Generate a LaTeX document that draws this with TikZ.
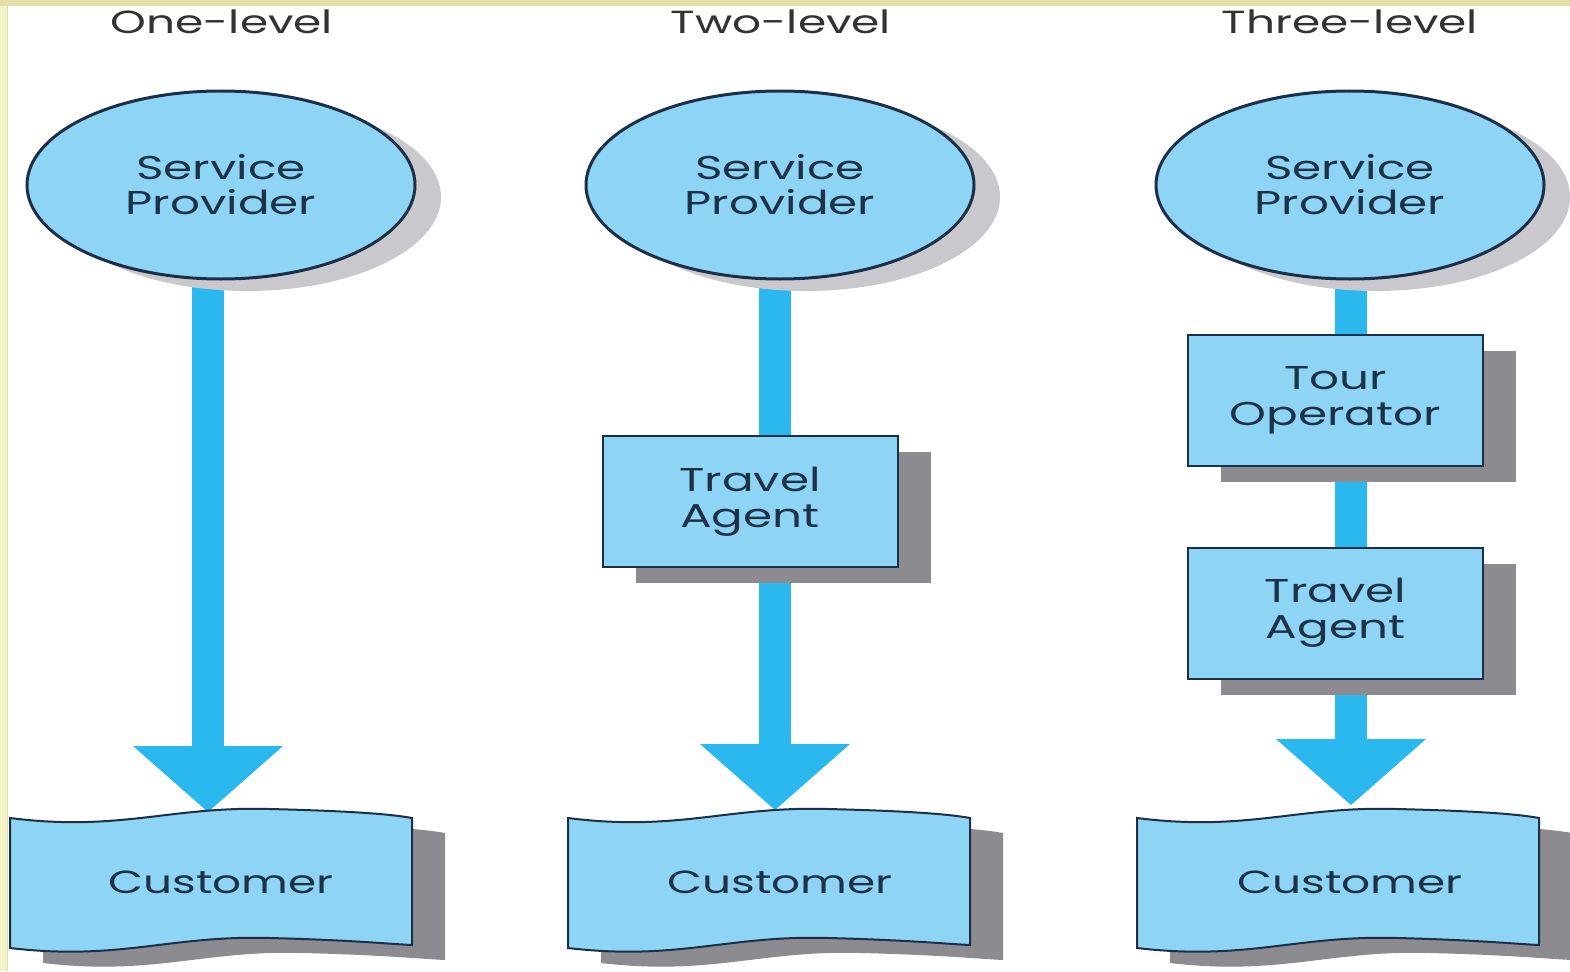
\documentclass[tikz,border=0pt]{standalone}
\usepackage{fontspec}
\setmainfont{Poppins}[FakeStretch=1.42]
\usetikzlibrary{shapes.geometric,arrows.meta,shadows}
\definecolor{boxfill}{HTML}{8ED5F5}
\definecolor{shaftc}{HTML}{2BB8EE}
\definecolor{edgec}{HTML}{1C2F48}
\definecolor{txtc}{HTML}{1E3247}
\definecolor{titlec}{HTML}{333333}
\definecolor{shdark}{HTML}{8C8C90}
\definecolor{shlight}{HTML}{C9C9CD}
\definecolor{ylw}{HTML}{F3F2C6}
\definecolor{ylwtop}{HTML}{E2DFAA}
\pgfdeclarelayer{back}
\pgfdeclarelayer{bg}
\pgfsetlayers{back,bg,main}
\tikzset{
  title/.style={font=\fontsize{32}{36}\selectfont, text=titlec, inner sep=0pt},
  provider/.style={ellipse, minimum width=388pt, minimum height=188pt, inner sep=0pt,
    fill=boxfill, draw=edgec, line width=3pt, align=center, text=txtc,
    font=\fontsize{33}{35}\selectfont,
    drop shadow={shadow xshift=26pt, shadow yshift=-12pt, fill=shlight, opacity=1}},
  agentbox/.style={rectangle, minimum width=295pt, minimum height=131pt, inner sep=0pt,
    fill=boxfill, draw=edgec, line width=2pt, align=center, text=txtc,
    font=\fontsize{33}{36}\selectfont,
    drop shadow={shadow xshift=33pt, shadow yshift=-16pt, fill=shdark, opacity=1}},
  custtext/.style={text=txtc, font=\fontsize{32}{35}\selectfont, inner sep=0pt},
  shaft/.style={line width=32pt, draw=shaftc},
  shaftarrow/.style={shaft, -{Triangle[width=150pt,length=66pt,line width=0pt]}, shaftc},
  wave/.pic={
    \fill[shdark, shift={(33,15)}] (0,0) .. controls (110,14) and (160,-12) .. (260,-9)
      .. controls (340,-7) and (380,-4) .. (402,0) -- (402,127)
      .. controls (380,126) and (340,122) .. (260,120)
      .. controls (160,117) and (110,143) .. (0,130) -- cycle;
    \filldraw[fill=boxfill, draw=edgec, line width=2pt] (0,0) .. controls (110,14) and (160,-12) .. (260,-9)
      .. controls (340,-7) and (380,-4) .. (402,0) -- (402,127)
      .. controls (380,126) and (340,122) .. (260,120)
      .. controls (160,117) and (110,143) .. (0,130) -- cycle;
  }
}
\begin{document}
\begin{tikzpicture}[x=1pt,y=-1pt]
\useasboundingbox (0,0) rectangle (1570,971);
\begin{pgfonlayer}{back}
\fill[white] (0,0) rectangle (1570,971);
\fill[ylw] (0,0) rectangle (8,971);
\fill[ylwtop] (0,0) rectangle (1570,6);
\draw[ylwtop, line width=1pt] (7.5,6) -- (7.5,971);
\end{pgfonlayer}

% titles
\node[title] (t1) at (222,22) {One-level};
\node[title] (t2) at (781,22) {Two-level};
\node[title] (t3) at (1350,22) {Three-level};

% providers
\node[provider] (sp1) at (221,185) {Service\\Provider};
\node[provider] (sp2) at (780,185) {Service\\Provider};
\node[provider] (sp3) at (1350,185) {Service\\Provider};

% intermediaries
\node[agentbox] (ta2) at (750,501.5) {Travel\\Agent};
\node[agentbox] (to3) at (1335.5,400.5) {Tour\\Operator};
\node[agentbox] (ta3) at (1335.5,613) {Travel\\Agent};

% customers
\pic at (10,818) {wave};
\pic at (568,818) {wave};
\pic at (1137,818) {wave};
\node[custtext] (c1) at (221,882) {Customer};
\node[custtext] (c2) at (780,882) {Customer};
\node[custtext] (c3) at (1350,882) {Customer};

\coordinate (tip1) at (208,812);
\coordinate (tip2) at (775,810);
\coordinate (tip3) at (1351,805);

\begin{pgfonlayer}{bg}
\draw[shaftarrow] (sp1.center -| tip1) -- (tip1);
\draw[shaft] (sp2.center -| tip2) -- (ta2.center -| tip2);
\draw[shaftarrow] (ta2.center -| tip2) -- (tip2);
\draw[shaft] (sp3.center -| tip3) -- (to3.center -| tip3);
\draw[shaft] (to3.center -| tip3) -- (ta3.center -| tip3);
\draw[shaftarrow] (ta3.center -| tip3) -- (tip3);
\end{pgfonlayer}
\end{tikzpicture}
\end{document}
